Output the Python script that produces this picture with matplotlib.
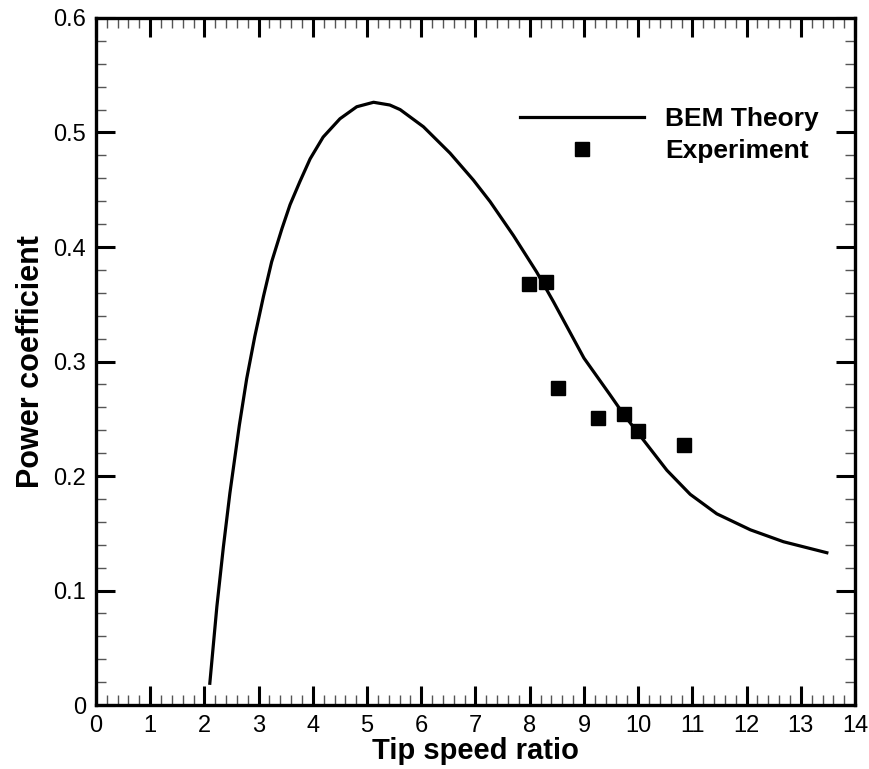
import numpy as np
import matplotlib
matplotlib.use("Agg")
import matplotlib.pyplot as plt
from matplotlib.ticker import MultipleLocator

plt.rcParams['font.family'] = ['Liberation Sans', 'DejaVu Sans']

# BEM theory curve
tsr_bem = [2.10, 2.23, 2.35, 2.47, 2.645, 2.78, 2.93, 3.09, 3.24, 3.43, 3.58, 3.76,
           3.95, 4.19, 4.50, 4.81, 5.12, 5.42, 5.61, 6.04, 6.53, 6.96, 7.27, 7.70,
           8.13, 8.44, 9.00, 9.48, 9.73, 9.99, 10.35, 10.53, 10.96, 11.45, 12.07,
           12.68, 13.48]
cp_bem = [0.019, 0.086, 0.138, 0.185, 0.2445, 0.285, 0.322, 0.357, 0.387, 0.416, 0.437, 0.457,
          0.477, 0.496, 0.512, 0.5225, 0.5264, 0.524, 0.520, 0.505, 0.482, 0.4585, 0.4396, 0.410,
          0.378, 0.352, 0.303, 0.271, 0.254, 0.238, 0.216, 0.205, 0.184, 0.167, 0.153,
          0.1426, 0.133]

# experiment points
tsr_exp = [7.99, 8.30, 8.52, 9.26, 9.73, 9.99, 10.85]
cp_exp = [0.368, 0.369, 0.277, 0.251, 0.254, 0.239, 0.227]

xticks = list(range(0, 15))
yticks = [0, 0.1, 0.2, 0.3, 0.4, 0.5, 0.6]
ytick_labels = ['0', '0.1', '0.2', '0.3', '0.4', '0.5', '0.6']

fig = plt.figure(figsize=(8.7, 7.69), dpi=100)
ax = fig.add_axes([0.1103, 0.0832, 0.9828 - 0.1103, 0.9766 - 0.0832])

ax.plot(tsr_bem, cp_bem, color='black', lw=2.3, label='BEM Theory',
        solid_joinstyle='round')
ax.plot(tsr_exp, cp_exp, ls='none', marker='s', ms=10, color='black', label='Experiment')

ax.set_xlim(0, 14)
ax.set_ylim(0, 0.6)
ax.set_xticks(xticks)
ax.set_yticks(yticks)
ax.set_yticklabels(ytick_labels)
ax.xaxis.set_minor_locator(MultipleLocator(0.2))
ax.yaxis.set_minor_locator(MultipleLocator(0.02))

ax.tick_params(which='both', direction='in', top=True, right=True, labelsize=17, colors='black')
ax.tick_params(which='major', length=13.5, width=2.2, pad=7)
ax.tick_params(which='minor', length=7.5, width=1.0, color='#555555')
for s in ax.spines.values():
    s.set_linewidth(2.4)

ax.set_xlabel('Tip speed ratio', fontsize=21, fontweight='bold', labelpad=0)
ax.set_ylabel('Power coefficient', fontsize=22, fontweight='bold', labelpad=5)

leg = ax.legend(loc='upper left', bbox_to_anchor=(0.5586, 0.870), frameon=False,
                prop={'size': 19, 'weight': 'bold'}, handlelength=4.7, handletextpad=0.8,
                labelspacing=0.3, borderpad=0, borderaxespad=0)

fig.savefig('out.png', dpi=100)
